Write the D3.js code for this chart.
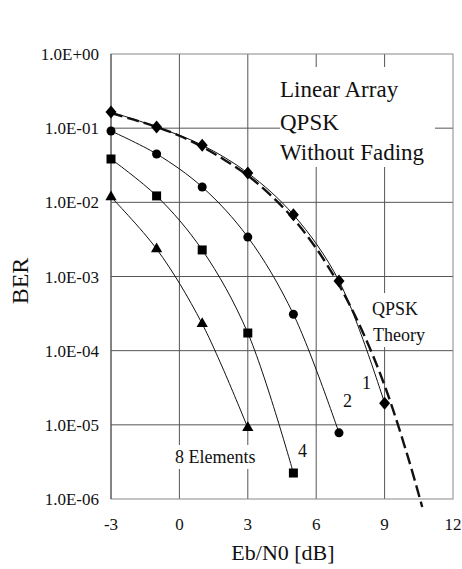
<!DOCTYPE html>
<html>
<head>
<meta charset="utf-8">
<script src="https://cdnjs.cloudflare.com/ajax/libs/d3/7.8.5/d3.min.js"></script>
<style>
  body { margin: 0; background: #fff; }
  text { font-family: "Liberation Serif", "Times New Roman", serif; fill: #111; }
</style>
</head>
<body>
<div id="chart"></div>
<script>
//---------------------------------- Data --------------------
var ebn0 = [-3, -1, 1, 3, 5, 7, 9];
var ber1 = [0.165, 0.104, 0.059, 0.0249, 0.0068, 0.00087, 0.0000196];   // 1 element
var ber2 = [0.0916, 0.0449, 0.0161, 0.0034, 0.00031, 0.0000078];        // 2 elements
var ber4 = [0.0384, 0.0122, 0.00228, 0.000173, 0.00000224];              // 4 elements
var ber8 = [0.0118, 0.00235, 0.00023, 0.0000091];                        // 8 elements

var theoryX = [-3, -2, -1, 0, 1, 2, 3, 4, 5, 6, 7, 8, 9, 10, 10.65];
var theoryY = [0.16, 0.13, 0.104, 0.079, 0.056, 0.037, 0.023, 0.0125, 0.006, 0.0024, 0.00077, 0.00019, 0.000034, 0.0000039, 0.00000078];

var xTicks = [-3, 0, 3, 6, 9, 12];
var yTicks = [1, 1e-1, 1e-2, 1e-3, 1e-4, 1e-5, 1e-6];
var yTickLabels = ["1.0E+00", "1.0E-01", "1.0E-02", "1.0E-03", "1.0E-04", "1.0E-05", "1.0E-06"];

//---------------------------------- View --------------------
var width = 462, height = 569;
var plotLeft = 111, plotRight = 453, plotTop = 54, plotBottom = 499;

var svg = d3.select("#chart").append("svg")
    .attr("width", width)
    .attr("height", height);

var x_scale = d3.scaleLinear().domain([-3, 12]).range([plotLeft, plotRight]);
var y_scale = d3.scaleLog().domain([1e-6, 1]).range([plotBottom, plotTop]);

// ---------- grid ----------
svg.selectAll(".vgrid").data(xTicks.slice(1, -1)).enter().append("line")
    .attr("class", "vgrid")
    .attr("x1", function(d) { return x_scale(d); })
    .attr("x2", function(d) { return x_scale(d); })
    .attr("y1", plotTop).attr("y2", plotBottom)
    .attr("stroke", "#555").attr("stroke-width", 1);

svg.selectAll(".hgrid").data(yTicks.slice(1, -1)).enter().append("line")
    .attr("class", "hgrid")
    .attr("x1", plotLeft).attr("x2", plotRight)
    .attr("y1", function(d) { return y_scale(d); })
    .attr("y2", function(d) { return y_scale(d); })
    .attr("stroke", "#555").attr("stroke-width", 1);

// border
svg.append("rect")
    .attr("x", plotLeft).attr("y", plotTop)
    .attr("width", plotRight - plotLeft).attr("height", plotBottom - plotTop)
    .attr("fill", "none").attr("stroke", "#888").attr("stroke-width", 1);
svg.append("line")
    .attr("x1", plotLeft).attr("x2", plotLeft).attr("y1", plotTop).attr("y2", plotBottom)
    .attr("stroke", "#444");

// ---------- axes labels ----------
svg.selectAll(".ylab").data(yTicks).enter().append("text")
    .attr("class", "ylab")
    .attr("x", plotLeft - 12)
    .attr("y", function(d) { return y_scale(d) + 6; })
    .attr("text-anchor", "end")
    .style("font-size", "17px")
    .text(function(d, i) { return yTickLabels[i]; });

svg.selectAll(".xlab").data(xTicks).enter().append("text")
    .attr("class", "xlab")
    .attr("x", function(d) { return x_scale(d); })
    .attr("y", 530)
    .attr("text-anchor", "middle")
    .style("font-size", "17px")
    .text(function(d) { return d; });

svg.append("text")
    .attr("x", 283).attr("y", 560)
    .attr("text-anchor", "middle")
    .style("font-size", "22px")
    .text("Eb/N0 [dB]");

svg.append("text")
    .attr("transform", "translate(28,281) rotate(-90)")
    .attr("text-anchor", "middle")
    .style("font-size", "24px")
    .text("BER");

// ---------- annotation boxes (white behind text) ----------
function label(txt, x, y, size, pad) {
  var t = svg.append("text").attr("x", x).attr("y", y).style("font-size", size + "px").text(txt);
  var b = t.node().getBBox();
  svg.insert("rect", "text")
      .attr("x", b.x - pad[0]).attr("y", b.y - pad[1])
      .attr("width", b.width + 2 * pad[0]).attr("height", b.height + 2 * pad[1])
      .attr("fill", "#fff");
  return t;
}

svg.append("rect").attr("x", 280).attr("y", 67).attr("width", 155).attr("height", 100).attr("fill", "#fff");
svg.append("text").attr("x", 280).attr("y", 97).style("font-size", "23px").text("Linear Array");
svg.append("text").attr("x", 280).attr("y", 130).style("font-size", "23px").text("QPSK");
svg.append("text").attr("x", 280).attr("y", 160).style("font-size", "23px").text("Without Fading");

svg.append("rect").attr("x", 368).attr("y", 293).attr("width", 62).attr("height", 54).attr("fill", "#fff");
svg.append("text").attr("x", 372).attr("y", 315).style("font-size", "18px").text("QPSK");
svg.append("text").attr("x", 373).attr("y", 341).style("font-size", "18px").text("Theory");

label("1", 362, 389, 18, [2, 1]);
label("2", 343, 407, 18, [2, 1]);
label("4", 298, 457, 18, [2, 1]);
label("8 Elements", 175, 463, 18, [3, 2]);

// ---------- curves ----------
var line = d3.line()
    .x(function(d) { return x_scale(d[0]); })
    .y(function(d) { return y_scale(d[1]); })
    .curve(d3.curveCatmullRom.alpha(0.5));

var series = [
  {vals: ber1, sym: "diamond"},
  {vals: ber2, sym: "circle"},
  {vals: ber4, sym: "square"},
  {vals: ber8, sym: "triangle"}
];

series.forEach(function(s) {
  s.pts = s.vals.map(function(v, i) { return [ebn0[i], v]; });
  svg.append("path")
      .attr("d", line(s.pts))
      .attr("fill", "none")
      .attr("stroke", "#111")
      .attr("stroke-width", 1);
});

var theoryPts = theoryX.map(function(d, i) { return [d, theoryY[i]]; });
svg.append("path")
    .attr("d", line(theoryPts))
    .attr("fill", "none")
    .attr("stroke", "#111")
    .attr("stroke-width", 2.4)
    .attr("stroke-dasharray", "12,5");

// ---------- markers ----------
var diamond = {
  draw: function(ctx, size) {
    ctx.moveTo(0, -6.5); ctx.lineTo(5.5, 0); ctx.lineTo(0, 6.5); ctx.lineTo(-5.5, 0); ctx.closePath();
  }
};
var symTypes = {diamond: diamond, circle: d3.symbolCircle, square: d3.symbolSquare, triangle: d3.symbolTriangle};
var symSizes = {diamond: 1, circle: 64, square: 81, triangle: 55};

series.forEach(function(s) {
  svg.selectAll(".pt-" + s.sym).data(s.pts).enter().append("path")
      .attr("class", "pt-" + s.sym)
      .attr("transform", function(d) { return "translate(" + x_scale(d[0]) + "," + y_scale(d[1]) + ")"; })
      .attr("d", d3.symbol().type(symTypes[s.sym]).size(symSizes[s.sym]))
      .attr("fill", "#000");
});
</script>
</body>
</html>
